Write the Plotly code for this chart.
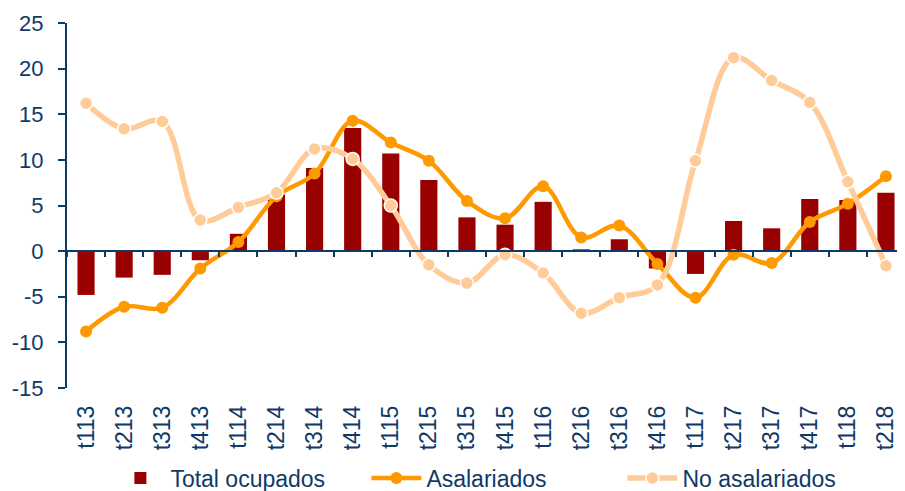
import plotly.graph_objects as go

categories = ["t113", "t213", "t313", "t413", "t114", "t214", "t314", "t414",
              "t115", "t215", "t315", "t415", "t116", "t216", "t316", "t416",
              "t117", "t217", "t317", "t417", "t118", "t218"]
total_ocupados = [-4.8, -2.9, -2.6, -1.0, 1.9, 6.2, 9.1, 13.5,
                  10.7, 7.8, 3.7, 2.9, 5.4, 0.2, 1.3, -1.9,
                  -2.5, 3.3, 2.5, 5.7, 5.6, 6.4]
asalariados = [-8.8, -6.1, -6.2, -1.9, 1.0, 6.0, 8.5, 14.3,
               11.9, 9.9, 5.5, 3.6, 7.1, 1.5, 2.8, -1.4,
               -5.1, -0.4, -1.3, 3.2, 5.2, 8.2]
no_asalariados = [16.2, 13.4, 14.2, 3.4, 4.8, 6.4, 11.2, 10.1,
                  5.0, -1.5, -3.5, -0.4, -2.4, -6.8, -5.1, -3.7,
                  9.9, 21.2, 18.7, 16.3, 7.6, -1.6]
y_ticks = [-15, -10, -5, 0, 5, 10, 15, 20, 25]
y_tick_labels = [str(v) for v in y_ticks]

NAVY = "#0F3A68"
FONT = "Liberation Sans, Arial, sans-serif"

fig = go.Figure()
fig.add_trace(go.Bar(
    x=categories, y=total_ocupados, name="Total ocupados",
    marker=dict(color="#990000", line=dict(width=0)),
    xaxis="x", yaxis="y",
))
fig.add_trace(go.Scatter(
    x=categories, y=asalariados, name="Asalariados", mode="lines+markers",
    line=dict(color="#FF9900", width=4.5, shape="spline", smoothing=1.0),
    marker=dict(color="#FF9900", size=12),
    xaxis="x2", yaxis="y",
))
fig.add_trace(go.Scatter(
    x=categories, y=no_asalariados, name="No asalariados", mode="lines+markers",
    line=dict(color="#FFCC99", width=5.5, shape="spline", smoothing=1.0),
    marker=dict(color="#FFCC99", size=13, line=dict(color="white", width=1.5)),
    xaxis="x2", yaxis="y",
))

# page body has an 8px margin, so the figure is sized to fit the window
fig.update_layout(
    width=897, height=483,
    margin=dict(l=59, r=0, t=15, b=103, autoexpand=False),
    plot_bgcolor="white", paper_bgcolor="white",
    font=dict(family=FONT, size=22, color=NAVY),
    bargap=0.55,
    showlegend=True,
    legend=dict(orientation="h", x=0.51, xanchor="center", y=-0.247, yanchor="middle",
                font=dict(family=FONT, size=23, color=NAVY),
                itemwidth=50, entrywidth=191, entrywidthmode="pixels",
                tracegroupgap=0, bgcolor="rgba(0,0,0,0)"),
    xaxis=dict(type="category", categoryorder="array", categoryarray=categories,
               range=[-0.5, len(categories) - 0.5],
               showline=False, ticks="", showgrid=False, zeroline=False,
               tickangle=-90, ticklabelstandoff=12,
               tickfont=dict(family=FONT, size=23, color=NAVY)),
    xaxis2=dict(type="category", categoryorder="array", categoryarray=categories,
                range=[-0.5, len(categories) - 0.5],
                overlaying="x", anchor="free", position=0.375, side="bottom",
                showline=True, linecolor=NAVY, linewidth=2,
                ticks="outside", tickson="boundaries", ticklen=5, tickwidth=2,
                tickcolor=NAVY, showticklabels=False, showgrid=False, zeroline=False),
    yaxis=dict(range=[-15, 25], tickvals=y_ticks, ticktext=y_tick_labels,
               showgrid=False, zeroline=False,
               showline=True, linecolor=NAVY, linewidth=2,
               ticks="outside", ticklen=7, tickwidth=2, tickcolor=NAVY,
               ticklabelstandoff=10,
               tickfont=dict(family=FONT, size=22, color=NAVY)),
)

fig.write_html("out.html")
